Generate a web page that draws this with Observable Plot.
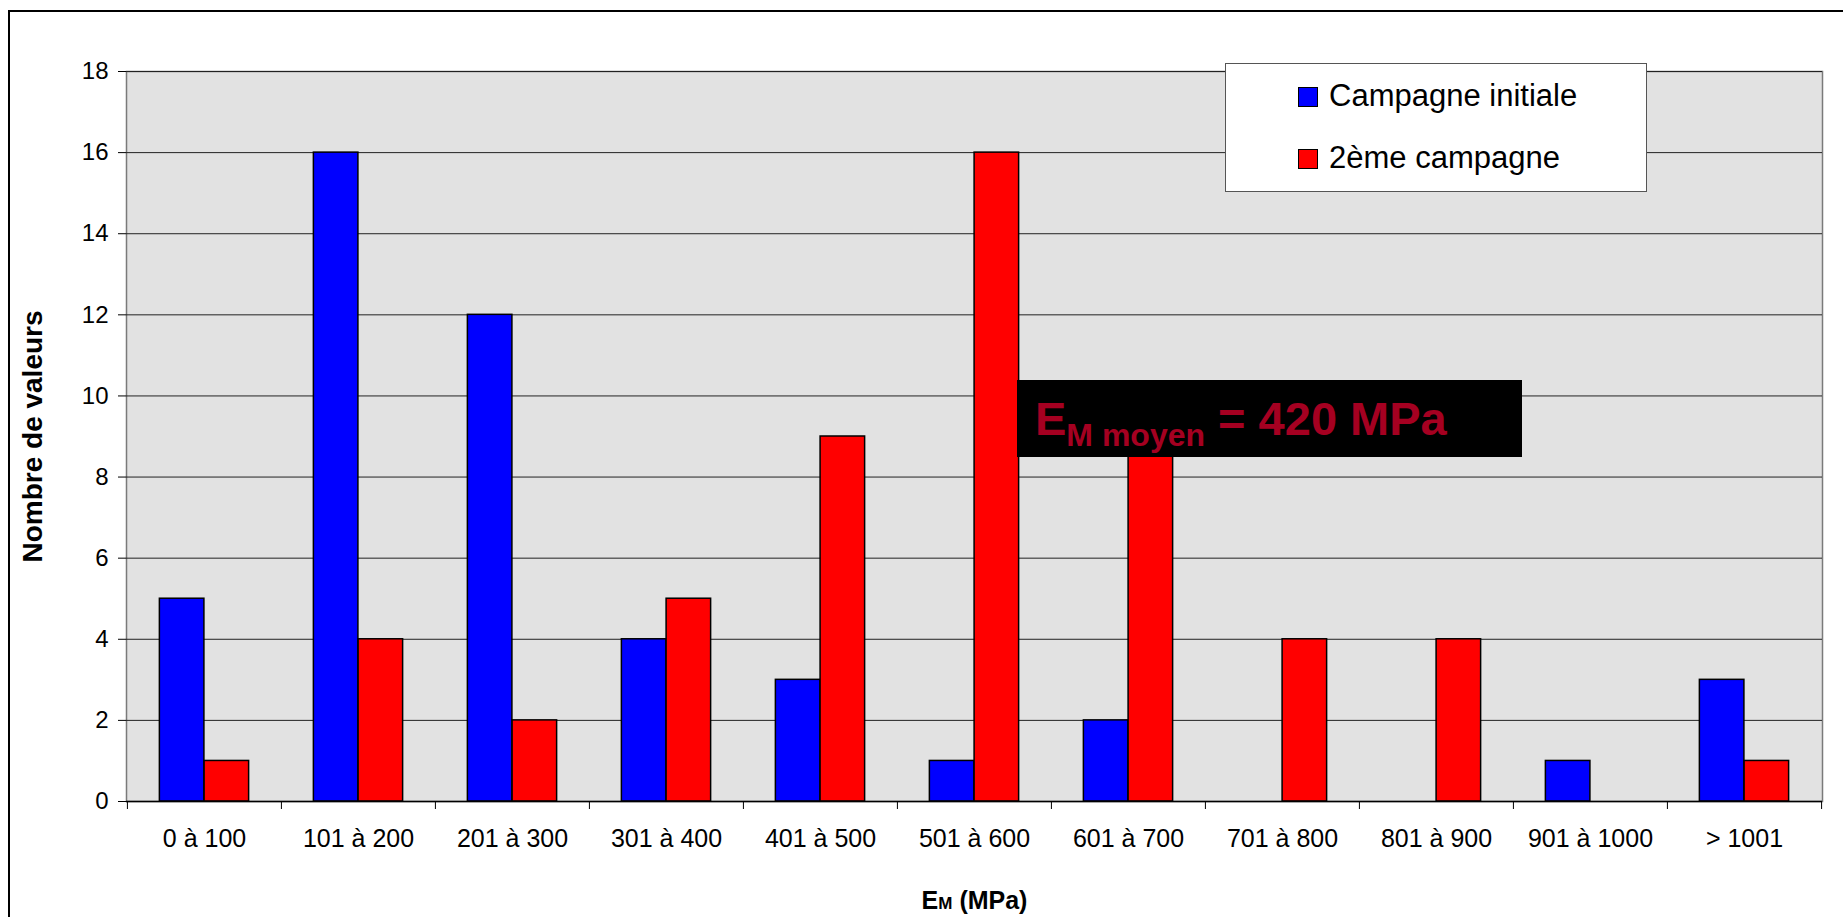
<!DOCTYPE html>
<html>
<head>
<meta charset="utf-8">
<script src="https://cdn.jsdelivr.net/npm/d3@7"></script>
<script src="https://cdn.jsdelivr.net/npm/@observablehq/plot@0.6"></script>
<style>
  body { margin: 0; background: #fff; }
  #wrap { position: relative; width: 1843px; height: 917px; overflow: hidden; font-family: "Liberation Sans", Arial, sans-serif; }
  #border { position: absolute; left: 8px; top: 10px; width: 1900px; height: 1000px; border: 2px solid #000; pointer-events: none; }
  #legend { position: absolute; left: 1225px; top: 63px; width: 420px; height: 127px; background: #fff; border: 1.5px solid #555; }
  .sw { position: absolute; left: 72px; width: 18px; height: 18px; border: 1px solid #000; }
  .lt { position: absolute; left: 103px; font-size: 31px; line-height: 30px; color: #000; white-space: nowrap; }
  #note { position: absolute; left: 1017px; top: 380px; width: 505px; height: 77px; background: #000; color: #a50021;
          font-weight: bold; font-size: 47px; line-height: 77px; white-space: nowrap; box-sizing: border-box; padding-left: 18px; }
  #note .sub { font-size: 32px; position: relative; top: 11px; }
</style>
</head>
<body>
<div id="wrap"></div>
<script>
// ---- data ----
const categories = ["0 à 100", "101 à 200", "201 à 300", "301 à 400", "401 à 500", "501 à 600",
                    "601 à 700", "701 à 800", "801 à 900", "901 à 1000", "> 1001"];
const initiale = [5, 16, 12, 4, 3, 1, 2, 0, 0, 1, 3];
const deuxieme = [1, 4, 2, 5, 9, 16, 9, 4, 4, 0, 1];
const seriesNames = ["Campagne initiale", "2ème campagne"];
const seriesColors = ["#0000ff", "#ff0000"];
const yTicks = [0, 2, 4, 6, 8, 10, 12, 14, 16, 18];
const yTitle = "Nombre de valeurs";
const xTitle = "EM (MPa)";
const noteText = {main: "E", sub: "M moyen", rest: " = 420 MPa"};

// ---- layout ----
const W = 1843, H = 917, ML = 126, MR = 21, MT = 71, MB = 116;
const step = (W - ML - MR) / categories.length;
const outer = step * 0.21, inner = step * 0.5;

const rows = categories.map((c, i) => ({cat: c, a: initiale[i], b: deuxieme[i]}));
const font = '"Liberation Sans", Arial, sans-serif';

const chart = Plot.plot({
  width: W, height: H,
  marginLeft: ML, marginRight: MR, marginTop: MT, marginBottom: MB,
  style: {fontFamily: font, background: "transparent", color: "#000", overflow: "visible"},
  x: {type: "band", domain: categories, padding: 0, label: null},
  y: {domain: [0, 18], label: null},
  marks: [
    Plot.frame({fill: "#e2e2e2", stroke: "#7a7a7a", strokeWidth: 1.5}),
    Plot.gridY(yTicks, {stroke: "#222", strokeOpacity: 1, strokeWidth: 1}),
    Plot.barY(rows, {x: "cat", y: "a", fill: seriesColors[0], stroke: "#000", strokeWidth: 1.5,
                     insetLeft: outer, insetRight: inner}),
    Plot.barY(rows, {x: "cat", y: "b", fill: seriesColors[1], stroke: "#000", strokeWidth: 1.5,
                     insetLeft: inner, insetRight: outer}),
    Plot.ruleY([0], {stroke: "#000", strokeWidth: 1.5}),
    Plot.axisY({ticks: yTicks, tickSize: 8, tickPadding: 10, fontSize: 24, label: null, stroke: "#000"}),
    Plot.axisX({tickSize: 0, tickPadding: 28, fontSize: 25, label: null}),
    Plot.axisX({tickSize: 8, tickFormat: () => "", dx: -step / 2, label: null, stroke: "#000"}),
    Plot.axisX({ticks: [categories[categories.length - 1]], tickSize: 8, tickFormat: () => "", dx: step / 2, label: null, stroke: "#000"}),
    Plot.text([yTitle], {text: d => d, frameAnchor: "left", textAnchor: "middle", dx: -93, rotate: -90, fontSize: 28, fontWeight: "bold", fill: "#000"}),
    Plot.text([xTitle], {text: d => d, frameAnchor: "bottom", textAnchor: "middle", dy: 107, lineAnchor: "bottom", fontSize: 25, fontWeight: "bold", fill: "#000"})
  ]
});

// subscript in the x title
d3.select(chart).selectAll("text").filter(function() { return this.textContent === xTitle; })
  .each(function() {
    const t = d3.select(this);
    t.text(null);
    t.append("tspan").text("E");
    t.append("tspan").attr("font-size", 17).text("M");
    t.append("tspan").text(" (MPa)");
  });

const wrap = document.getElementById("wrap");
wrap.appendChild(chart);

// legend
const legend = document.createElement("div");
legend.id = "legend";
seriesNames.forEach((n, i) => {
  const sw = document.createElement("div");
  sw.className = "sw";
  sw.style.top = (23 + i * 62) + "px";
  sw.style.background = seriesColors[i];
  legend.appendChild(sw);
  const lt = document.createElement("div");
  lt.className = "lt";
  lt.style.top = (17 + i * 62) + "px";
  lt.textContent = n;
  legend.appendChild(lt);
});
wrap.appendChild(legend);

// annotation
const note = document.createElement("div");
note.id = "note";
note.appendChild(document.createTextNode(noteText.main));
const sub = document.createElement("span");
sub.className = "sub";
sub.textContent = noteText.sub;
note.appendChild(sub);
note.appendChild(document.createTextNode(noteText.rest));
wrap.appendChild(note);

const border = document.createElement("div");
border.id = "border";
wrap.appendChild(border);
</script>
</body>
</html>
